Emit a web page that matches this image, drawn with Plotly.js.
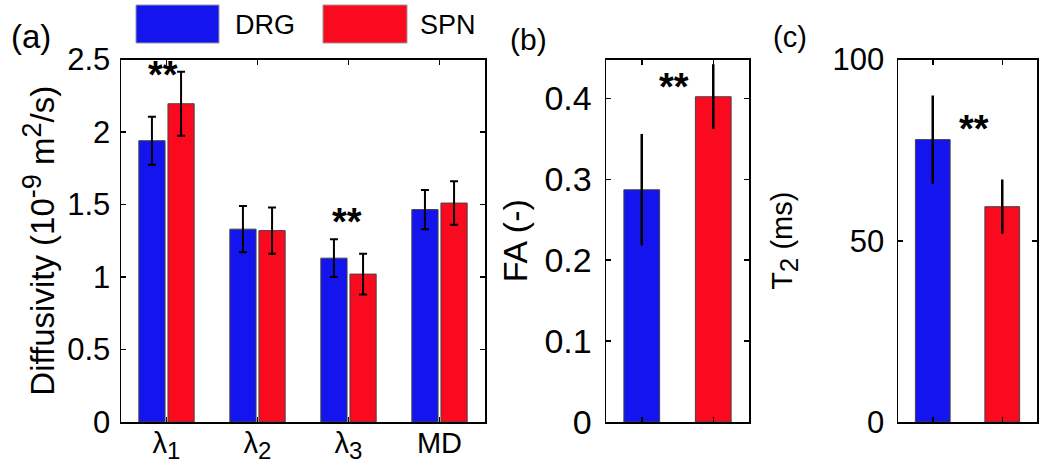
<!DOCTYPE html>
<html><head><meta charset="utf-8">
<script src="https://cdn.plot.ly/plotly-3.0.1.min.js"></script>
<style>html,body{margin:0;padding:0;background:#fff}#chart{width:1050px;height:476px}</style>
</head><body><div id="chart"></div>
<script>
// ---- data ----
const categories = ['λ<sub><span style="font-size:24px">1</span></sub>', 'λ<sub><span style="font-size:24px">2</span></sub>', 'λ<sub><span style="font-size:24px">3</span></sub>', 'MD'];
const drgDiff = [1.94, 1.33, 1.13, 1.465];
const drgDiffErr = [0.165, 0.16, 0.13, 0.135];
const spnDiff = [2.195, 1.32, 1.02, 1.51];
const spnDiffErr = [0.22, 0.16, 0.14, 0.15];
const groups = ['DRG', 'SPN'];
const faValues = [0.287, 0.402];
const faErr = [0.069, 0.04];
const t2Values = [77.9, 59.4];
const t2Err = [12.2, 7.5];
const diffTicks = [0, 0.5, 1, 1.5, 2, 2.5];
const faTicks = [0, 0.1, 0.2, 0.3, 0.4];
const t2Ticks = [0, 50, 100];

// ---- style ----
const BLUE = '#1414ee';
const RED = '#fa0a1e';
const FONT = 'Liberation Sans, Arial, Helvetica, sans-serif';
const W = 1050, H = 476;
const px = v => v / W;
const py = v => 1 - v / H;

const outline = {color: '#444', width: 1};
const errA = {type: 'data', visible: true, color: '#000', thickness: 2, width: 4};

const traces = [
  {type: 'bar', name: 'DRG', x: categories, y: drgDiff,
   error_y: Object.assign({array: drgDiffErr}, errA),
   marker: {color: BLUE, line: outline}, xaxis: 'x', yaxis: 'y', showlegend: false},
  {type: 'bar', name: 'SPN', x: categories, y: spnDiff,
   error_y: Object.assign({array: spnDiffErr}, errA),
   marker: {color: RED, line: outline}, xaxis: 'x', yaxis: 'y', showlegend: false},
  {type: 'bar', name: 'FA', x: groups, y: faValues, width: 0.5,
   error_y: {type: 'data', array: faErr, color: '#000', thickness: 2.5, width: 0},
   marker: {color: [BLUE, RED], line: outline}, xaxis: 'x2', yaxis: 'y2', showlegend: false},
  {type: 'bar', name: 'T2', x: groups, y: t2Values, width: 0.5,
   error_y: {type: 'data', array: t2Err, color: '#000', thickness: 2.5, width: 0},
   marker: {color: [BLUE, RED], line: outline}, xaxis: 'x3', yaxis: 'y3', showlegend: false}
];

const axBase = {
  showline: true, linecolor: '#000', linewidth: 1.5, mirror: 'ticks',
  ticks: 'inside', ticklen: 5, tickwidth: 1.5, tickcolor: '#000',
  showgrid: false, zeroline: false, fixedrange: true,
  tickfont: {family: FONT, size: 31, color: '#000'}
};
const ydom = [py(422), py(59.5)];
const star = {family: FONT, size: 38, color: '#000', weight: 'bold'};

const layout = {
  width: W, height: H,
  margin: {l: 0, r: 0, t: 0, b: 0},
  paper_bgcolor: '#fff', plot_bgcolor: '#fff',
  font: {family: FONT, color: '#000'},
  barmode: 'group', bargap: 0.36, bargroupgap: 0.1,
  showlegend: false,
  xaxis: Object.assign({}, axBase, {domain: [px(121), px(485)], anchor: 'y',
    type: 'category', range: [-0.5, 3.5], ticklabelstandoff: -5,
    tickfont: {family: FONT, size: 29, color: '#000'}}),
  yaxis: Object.assign({}, axBase, {domain: ydom, anchor: 'x', range: [0, 2.5],
    tickvals: diffTicks, ticklabelstandoff: 3,
    title: {text: 'Diffusivity (10<sup><span style="font-size:27px">-9</span></sup> m<sup><span style="font-size:27px">2</span></sup>/s)', standoff: 2,
      font: {family: FONT, size: 33, color: '#000'}}}),
  xaxis2: Object.assign({}, axBase, {domain: [px(606), px(749)], anchor: 'y2',
    type: 'category', range: [-0.5, 1.5], showticklabels: false}),
  yaxis2: Object.assign({}, axBase, {domain: ydom, anchor: 'x2', range: [0, 0.448],
    tickvals: faTicks, ticklabelstandoff: 6,
    tickfont: {family: FONT, size: 34, color: '#000'},
    title: {text: 'FA (-)', standoff: 6, font: {family: FONT, size: 34, color: '#000'}}}),
  xaxis3: Object.assign({}, axBase, {domain: [px(898), px(1037)], anchor: 'y3',
    type: 'category', range: [-0.5, 1.5], showticklabels: false}),
  yaxis3: Object.assign({}, axBase, {domain: ydom, anchor: 'x3', range: [0, 100],
    tickvals: t2Ticks, ticklabelstandoff: 6,
    title: {text: 'T<sub><span style="font-size:26px">2</span></sub> (ms)', standoff: 31, font: {family: FONT, size: 29, color: '#000'}}}),
  shapes: [
    {type: 'rect', xref: 'paper', yref: 'paper', x0: px(136), x1: px(219), y0: py(43), y1: py(5),
     fillcolor: BLUE, line: {color: '#999', width: 1}},
    {type: 'rect', xref: 'paper', yref: 'paper', x0: px(323), x1: px(407), y0: py(43), y1: py(5),
     fillcolor: RED, line: {color: '#999', width: 1}}
  ],
  annotations: [
    {xref: 'paper', yref: 'paper', x: px(233), y: py(25), xanchor: 'left', yanchor: 'middle',
     text: 'DRG', showarrow: false, font: {family: FONT, size: 27, color: '#000'}},
    {xref: 'paper', yref: 'paper', x: px(418), y: py(25), xanchor: 'left', yanchor: 'middle',
     text: 'SPN', showarrow: false, font: {family: FONT, size: 27, color: '#000'}},
    {xref: 'paper', yref: 'paper', x: px(31), y: py(37), xanchor: 'center', yanchor: 'middle',
     text: '(a)', showarrow: false, font: {family: FONT, size: 33, color: '#000'}},
    {xref: 'paper', yref: 'paper', x: px(528), y: py(39), xanchor: 'center', yanchor: 'middle',
     text: '(b)', showarrow: false, font: {family: FONT, size: 30, color: '#000'}},
    {xref: 'paper', yref: 'paper', x: px(790), y: py(37), xanchor: 'center', yanchor: 'middle',
     text: '(c)', showarrow: false, font: {family: FONT, size: 29, color: '#000'}},
    {xref: 'x', yref: 'y', x: -0.04, y: 2.39, text: '**', showarrow: false, font: star},
    {xref: 'x', yref: 'y', x: 1.98, y: 1.377, text: '**', showarrow: false, font: star},
    {xref: 'x2', yref: 'y2', x: 0.445, y: 0.4137, text: '**', showarrow: false, font: star},
    {xref: 'x3', yref: 'y3', x: 0.594, y: 80.9, text: '**', showarrow: false, font: star}
  ]
};

Plotly.newPlot('chart', traces, layout, {displayModeBar: false, staticPlot: true});
</script>
</body></html>
